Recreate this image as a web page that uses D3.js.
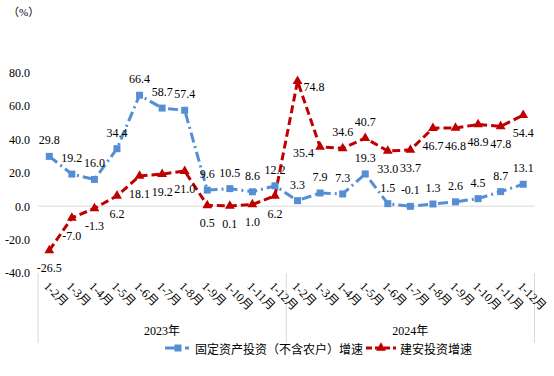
<!DOCTYPE html>
<html><head><meta charset="utf-8">
<script src="https://cdn.jsdelivr.net/npm/d3@7"></script>
<style>
html,body{margin:0;padding:0;background:#fff;}
text{font-family:"Liberation Serif","Noto Sans CJK SC",serif;}
</style></head>
<body><svg id="c" width="554" height="376"></svg>
<script>
const years = ["2023年", "2024年"];
const months = ["1-2月","1-3月","1-4月","1-5月","1-6月","1-7月","1-8月","1-9月","1-10月","1-11月","1-12月"];
const fixedInv = [29.8,19.2,16.0,34.4,66.4,58.7,57.4,9.6,10.5,8.6,12.2, 3.3,7.9,7.3,19.3,1.5,-0.1,1.3,2.6,4.5,8.7,13.1];
const buildInv = [-26.5,-7.0,-1.3,6.2,18.1,19.2,21.0,0.5,0.1,1.0,6.2, 74.8,35.4,34.6,40.7,33.0,33.7,46.7,46.8,48.9,47.8,54.4];
const fixedLabelPos = Array(22).fill("t");
const buildLabelPos = ["b","b","b","b","b","b","b","b","b","b","b","r","l","t","t","b","b","b","b","b","b","b"];
const yTicks = [-40,-20,0,20,40,60,80];
const seriesNames = ["固定资产投资（不含农户）增速","建安投资增速"];

const categories = years.flatMap((y,yi)=>months.map((m,mi)=>({key:yi*100+mi, year:y, month:m})));

const svg = d3.select("#c");
const x = d3.scaleBand().domain(categories.map(d=>d.key)).range([38,534.5]).padding(0);
const y = d3.scaleLinear().domain([-40,80]).range([273,72.5]);
const cx = i => x(categories[i].key) + x.bandwidth()/2;

// y axis labels
const yAxis = d3.axisLeft(y).tickValues(yTicks).tickFormat(v=>v.toFixed(1)).tickSize(0).tickPadding(0);
const ga = svg.append("g").attr("transform","translate(30,0)").call(yAxis);
ga.select(".domain").remove();
ga.selectAll("text").attr("font-size",12).attr("fill","#000").style("font-family","Liberation Serif");

// zero line
svg.append("line").attr("x1",38).attr("x2",534.5).attr("y1",y(0)).attr("y2",y(0))
  .attr("stroke","#d9d9d9").attr("stroke-width",1);

// unit
svg.append("text").attr("x",8).attr("y",12).attr("dominant-baseline","central")
  .attr("font-size",11).text("（%）");

// category separators
const seps = [0, 11, 22].map(i => i<22 ? x(categories[i].key) : x(categories[21].key)+x.bandwidth());
svg.selectAll(".sep").data(seps).enter().append("line")
  .attr("x1",d=>d).attr("x2",d=>d).attr("y1",273).attr("y2",343)
  .attr("stroke","#d9d9d9").attr("stroke-width",1);

// month labels
svg.selectAll(".mlab").data(categories).enter().append("text")
  .attr("transform",(d,i)=>`translate(${cx(i)-4},285) rotate(45)`)
  .attr("dominant-baseline","middle").attr("font-size",12).attr("fill","#000")
  .text(d=>d.month);

// year labels
years.forEach((yr,yi)=>{
  const a = seps[yi], b = seps[yi+1];
  svg.append("text").attr("x",(a+b)/2).attr("y",331).attr("text-anchor","middle")
    .attr("dominant-baseline","central").attr("font-size",12).text(yr);
});

const blue = "#558ed5", red = "#c00000";
const line = d3.line().x((d,i)=>cx(i)).y(d=>y(d));

svg.append("path").datum(fixedInv).attr("d",line).attr("fill","none")
  .attr("stroke",blue).attr("stroke-width",3).attr("stroke-dasharray","10,4,2,4");
svg.append("path").datum(buildInv).attr("d",line).attr("fill","none")
  .attr("stroke",red).attr("stroke-width",3).attr("stroke-dasharray","8,4");

const sq = d3.symbol().type(d3.symbolSquare).size(49);
const tri = d3.symbol().type(d3.symbolTriangle).size(42);

svg.selectAll(".bm").data(fixedInv).enter().append("path")
  .attr("d",sq).attr("transform",(d,i)=>`translate(${cx(i)},${y(d)})`).attr("fill",blue);
svg.selectAll(".rm").data(buildInv).enter().append("path")
  .attr("d",tri).attr("transform",(d,i)=>`translate(${cx(i)},${y(d)})`).attr("fill",red);

function labels(data, pos, cls){
  svg.selectAll("."+cls).data(data).enter().append("text")
    .attr("x",(d,i)=> pos[i]==="r" ? cx(i)+6 : pos[i]==="l" ? cx(i)-6 : cx(i))
    .attr("y",(d,i)=> pos[i]==="t" ? y(d)-16 : pos[i]==="b" ? y(d)+18 : y(d)+6)
    .attr("text-anchor",(d,i)=> pos[i]==="r" ? "start" : pos[i]==="l" ? "end" : "middle")
    .attr("dominant-baseline","central").attr("font-size",12).attr("fill","#000")
    .text(d=>d.toFixed(1));
}
labels(fixedInv, fixedLabelPos, "bl");
labels(buildInv, buildLabelPos, "rl");

// legend
const ly = 348;
const leg = [
  {x1:165, x2:189, mx:178, tx:195, color:blue, dash:"10,4,2,4", sym:sq, name:seriesNames[0]},
  {x1:366, x2:396, mx:381, tx:400, color:red, dash:"6,3", sym:tri, name:seriesNames[1]}
];
leg.forEach(l=>{
  svg.append("line").attr("x1",l.x1).attr("x2",l.x2).attr("y1",ly).attr("y2",ly)
    .attr("stroke",l.color).attr("stroke-width",3).attr("stroke-dasharray",l.dash);
  svg.append("path").attr("d",l.sym).attr("transform",`translate(${l.mx},${ly})`).attr("fill",l.color);
  svg.append("text").attr("x",l.tx).attr("y",ly).attr("dominant-baseline","central")
    .attr("font-size",12).style("font-family","Noto Sans CJK SC").text(l.name);
});
</script></body></html>
